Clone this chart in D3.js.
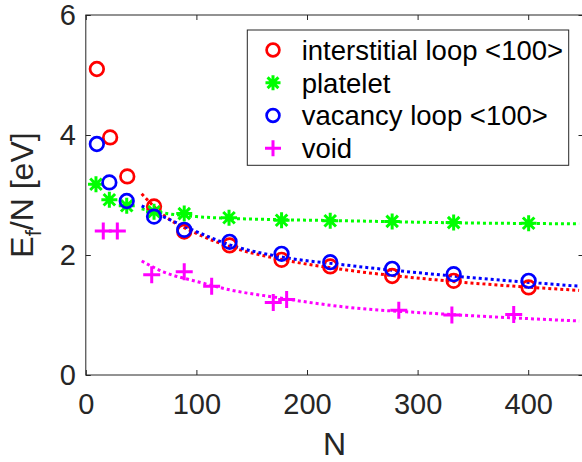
<!DOCTYPE html>
<html>
<head>
<meta charset="utf-8">
<script src="https://cdn.jsdelivr.net/npm/d3@7"></script>
<style>
   body { margin: 0; background: #fff; }
   svg { display: block; font-family: "Liberation Sans", Arial, sans-serif; }
</style>
</head>
<body>
<svg id="chart" width="582" height="462"></svg>
<script>
// tick values
const xTicks = [0, 100, 200, 300, 400];
const yTicks = [0, 2, 4, 6];

// measured points
const interN = [10, 22, 37.5, 61.7, 89, 130, 177, 221, 277, 332.6, 400.4];
const interE = [5.1, 3.96, 3.31, 2.81, 2.39, 2.16, 1.92, 1.81, 1.65, 1.57, 1.46];

const plateN = [9.2, 21.3, 37, 61.7, 89, 129.5, 177, 221, 277, 332.6, 400.4];
const plateE = [3.18, 2.92, 2.82, 2.72, 2.69, 2.62, 2.58, 2.57, 2.56, 2.54, 2.53];

const vacN = [10, 21.3, 37, 61.7, 89, 130, 177, 221, 277, 332.6, 400.4];
const vacE = [3.85, 3.21, 2.9, 2.64, 2.42, 2.22, 2.02, 1.88, 1.77, 1.68, 1.57];

const voidN = [15.8, 28.5, 59.6, 89, 113.8, 169.5, 181.6, 283, 331, 386.9];
const voidE = [2.4, 2.4, 1.67, 1.72, 1.48, 1.21, 1.26, 1.08, 1.0, 1.01];

// fitted curves
const fitN = [50.5, 70, 100, 130, 173, 236, 320, 446];
const interFit = [3.02, 2.67, 2.36, 2.14, 1.94, 1.75, 1.58, 1.41];
const vacFit = [2.82, 2.64, 2.39, 2.17, 1.98, 1.83, 1.67, 1.48];
const plateFit = [2.77, 2.70, 2.64, 2.61, 2.59, 2.57, 2.54, 2.52];
const voidFit = [1.9, 1.72, 1.56, 1.42, 1.29, 1.13, 1.02, 0.9];

const legendLabels = ["interstitial loop <100>", "platelet", "vacancy loop <100>", "void"];

window.onload = function() {
   drawChart();
}

function drawChart() {
   let margin = {left: 85.8, right: 583.5, top: 15, bottom: 375};
   let axisColor = "#262626";

   let x = d3.scaleLinear().domain([0, 450]).range([margin.left, margin.right]);
   let y = d3.scaleLinear().domain([0, 6]).range([margin.bottom, margin.top]);

   let svg = d3.select("#chart");

   let series = [
      {n: interN, e: interE, fit: interFit, color: "#ff0000", marker: "circle"},
      {n: plateN, e: plateE, fit: plateFit, color: "#00ff00", marker: "star"},
      {n: vacN, e: vacE, fit: vacFit, color: "#0000ff", marker: "circle"},
      {n: voidN, e: voidE, fit: voidFit, color: "#ff00ff", marker: "plus"}
   ];

   // box
   svg.append("rect")
      .attr("x", margin.left).attr("y", margin.top)
      .attr("width", margin.right - margin.left)
      .attr("height", margin.bottom - margin.top)
      .attr("fill", "none")
      .attr("stroke", axisColor)
      .attr("stroke-width", 1);

   // axes
   svg.append("g")
      .attr("transform", "translate(0," + margin.bottom + ")")
      .call(d3.axisBottom(x).tickValues(xTicks).tickSize(-5).tickPadding(18).tickFormat(d3.format("d")));
   svg.append("g")
      .attr("transform", "translate(" + margin.left + ",0)")
      .call(d3.axisLeft(y).tickValues(yTicks).tickSize(-5).tickPadding(10).tickFormat(d3.format("d")));
   svg.append("g")
      .attr("transform", "translate(0," + margin.top + ")")
      .call(d3.axisTop(x).tickValues(xTicks).tickSize(-5).tickFormat(""));
   svg.append("g")
      .attr("transform", "translate(" + margin.right + ",0)")
      .call(d3.axisRight(y).tickValues(yTicks).tickSize(-5).tickFormat(""));

   svg.selectAll(".domain").remove();
   svg.selectAll(".tick line").attr("stroke", axisColor);
   svg.selectAll(".tick text")
      .attr("fill", axisColor)
      .style("font-size", "29px")
      .style("font-family", "Liberation Sans, Arial, sans-serif");

   // axis labels
   svg.append("text")
      .attr("x", (margin.left + margin.right) / 2)
      .attr("y", 455)
      .attr("text-anchor", "middle")
      .attr("fill", axisColor)
      .style("font-size", "32px")
      .text("N");

   let ycenter = (margin.top + margin.bottom) / 2;
   let ylab = svg.append("text")
      .attr("transform", "translate(33," + ycenter + ") rotate(-90)")
      .attr("text-anchor", "middle")
      .attr("fill", axisColor)
      .style("font-size", "32px");
   ylab.append("tspan").text("E");
   ylab.append("tspan").attr("dy", 8).style("font-size", "22px").text("f");
   ylab.append("tspan").attr("dy", -8).text("/N [eV]");

   // fit lines
   let line = d3.line()
      .x((d, i) => x(fitN[i]))
      .y(d => y(d))
      .curve(d3.curveMonotoneX);

   svg.append("g").selectAll("path")
      .data(series)
      .join("path")
         .attr("d", s => line(s.fit))
         .attr("fill", "none")
         .attr("stroke", s => s.color)
         .attr("stroke-width", 3)
         .attr("stroke-dasharray", "3,3");

   // markers
   function drawMarker(g, type, color, size) {
      if (type === "circle") {
         g.append("circle").attr("r", size * 0.4)
            .attr("fill", "none").attr("stroke", color).attr("stroke-width", 2.7);
      } else if (type === "plus") {
         let h = size / 2;
         g.append("path").attr("d", `M${-h},0H${h}M0,${-h}V${h}`)
            .attr("stroke", color).attr("stroke-width", 3);
      } else {
         let h = size * 0.47, d = h * 0.72;
         g.append("path")
            .attr("d", `M${-h},0H${h}M0,${-h}V${h}M${-d},${-d}L${d},${d}M${-d},${d}L${d},${-d}`)
            .attr("stroke", color).attr("stroke-width", 3);
      }
   }

   series.forEach(s => {
      let g = svg.append("g");
      s.n.forEach((n, i) => {
         let m = g.append("g").attr("transform", "translate(" + x(n) + "," + y(s.e[i]) + ")");
         drawMarker(m, s.marker, s.color, 17);
      });
   });

   // legend
   let legend = svg.append("g");
   legend.append("rect")
      .attr("x", 247.3).attr("y", 30)
      .attr("width", 321.4).attr("height", 135.3)
      .attr("fill", "#fff")
      .attr("stroke", axisColor)
      .attr("stroke-width", 1);

   let rowY = d3.scaleLinear().domain([0, 3]).range([50, 148.3]);
   series.forEach((s, i) => {
      let m = legend.append("g").attr("transform", "translate(273," + rowY(i) + ")");
      drawMarker(m, s.marker, s.color, 16);
      legend.append("text")
         .attr("x", 301.7)
         .attr("y", rowY(i))
         .attr("dy", "0.36em")
         .attr("fill", "#000")
         .style("font-size", "27.5px")
         .text(legendLabels[i]);
   });
}
</script>
</body>
</html>
